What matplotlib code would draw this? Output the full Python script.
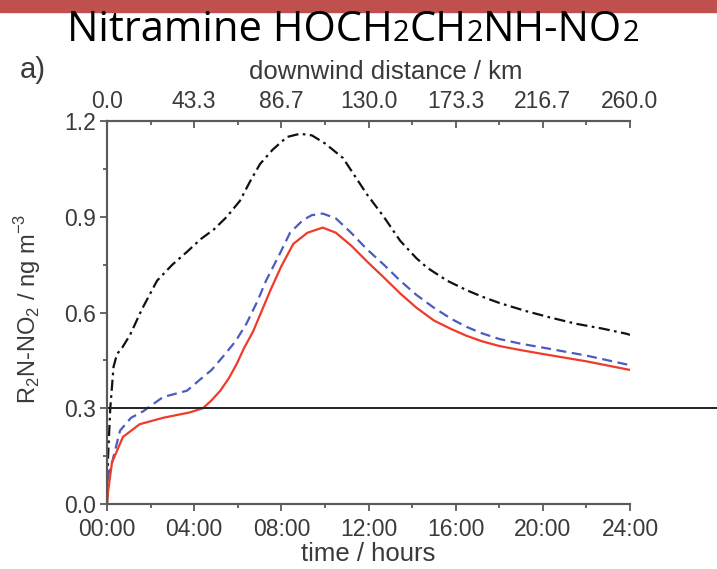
import matplotlib
matplotlib.use("Agg")
import matplotlib.pyplot as plt
from matplotlib.patches import Rectangle
from matplotlib.ticker import MultipleLocator, FixedLocator

# model run: concentration along the plume (hours after release)
t_black = [0.0, 0.05, 0.15, 0.3, 0.46, 0.7, 1.06, 1.6, 2.3, 3.0, 3.67, 4.3, 4.9, 5.5, 6.1, 6.56, 7.02, 7.6, 8.26, 8.86, 9.4, 10.0, 10.83, 11.93, 12.7, 13.45, 14.2, 14.7, 15.6, 16.5, 17.2, 18.0, 19.2, 20.3, 21.5, 22.7, 23.8, 24.0]
v_black = [0.0, 0.15, 0.30, 0.43, 0.47, 0.49, 0.53, 0.61, 0.70, 0.75, 0.79, 0.83, 0.86, 0.90, 0.95, 1.01, 1.065, 1.11, 1.15, 1.16, 1.155, 1.13, 1.084, 0.97, 0.90, 0.825, 0.77, 0.74, 0.70, 0.67, 0.65, 0.63, 0.605, 0.585, 0.565, 0.55, 0.534, 0.53]

t_blue = [0.0, 0.1, 0.23, 0.6, 1.1, 1.65, 2.57, 3.67, 4.27, 4.8, 5.3, 5.9, 6.4, 6.9, 7.3, 7.9, 8.4, 9.0, 9.4, 9.9, 10.5, 11.2, 11.9, 12.7, 13.45, 14.2, 15.0, 15.8, 16.5, 17.2, 18.0, 19.0, 20.0, 22.0, 24.0]
v_blue = [0.08, 0.10, 0.13, 0.23, 0.27, 0.29, 0.335, 0.355, 0.39, 0.42, 0.46, 0.51, 0.565, 0.635, 0.70, 0.78, 0.85, 0.89, 0.905, 0.91, 0.895, 0.85, 0.80, 0.75, 0.70, 0.655, 0.615, 0.58, 0.555, 0.535, 0.517, 0.502, 0.49, 0.465, 0.435]

t_red = [0.0, 0.05, 0.23, 0.73, 1.5, 2.57, 3.8, 4.4, 4.8, 5.2, 5.6, 5.96, 6.3, 6.7, 7.1, 7.5, 8.0, 8.55, 9.2, 9.9, 10.5, 11.2, 11.93, 12.7, 13.45, 14.2, 15.0, 15.8, 16.5, 17.2, 18.0, 19.0, 20.0, 22.0, 24.0]
v_red = [0.0, 0.04, 0.13, 0.21, 0.25, 0.27, 0.287, 0.30, 0.325, 0.355, 0.395, 0.44, 0.49, 0.54, 0.605, 0.67, 0.745, 0.815, 0.85, 0.866, 0.85, 0.81, 0.76, 0.71, 0.66, 0.615, 0.575, 0.548, 0.527, 0.51, 0.495, 0.482, 0.47, 0.447, 0.42]

threshold = 0.3

hour_ticks = [0, 4, 8, 12, 16, 20, 24]
hour_labels = ["00:00", "04:00", "08:00", "12:00", "16:00", "20:00", "24:00"]
km_ticks = [0.0, 43.3, 86.7, 130.0, 173.3, 216.7, 260.0]
y_ticks = [0.0, 0.3, 0.6, 0.9, 1.2]

grey = "#5a5a5a"
txt = "#3a3a3a"
plt.rcParams["font.family"] = ["Liberation Sans", "DejaVu Sans"]
plt.rcParams["mathtext.fontset"] = "custom"
plt.rcParams["mathtext.rm"] = "Liberation Sans"

fig = plt.figure(figsize=(7.17, 5.69), dpi=100)
fig.patches.append(Rectangle((0, 1 - 12 / 569), 1, 12 / 569, transform=fig.transFigure,
                             color="#C0504D", zorder=0))

ax = fig.add_axes([107 / 717, 1 - 504 / 569, 523 / 717, 383 / 569])
ax.plot(t_black, v_black, color="#111111", lw=1.6, dashes=(5, 2, 1.2, 2))
ax.plot(t_blue, v_blue, color="#4a5cc0", lw=1.6, dashes=(4.5, 2.5))
ax.plot(t_red, v_red, color="#f03a2a", lw=1.6)
# threshold line runs out past the frame
ax.plot([0, 28.1], [threshold, threshold], color="#222222", lw=1.4, clip_on=False)

ax.set_xlim(0, 24)
ax.set_ylim(0, 1.2)
ax.set_xticks(hour_ticks)
ax.set_xticklabels(hour_labels)
ax.xaxis.set_minor_locator(MultipleLocator(2))
ax.set_yticks(y_ticks)
ax.set_yticklabels(["%.1f" % v for v in y_ticks])
ax.yaxis.set_minor_locator(MultipleLocator(0.15))
ax.tick_params(which="both", direction="out", color=grey, width=1.3, labelsize=16.5,
               labelcolor=txt)
ax.tick_params(axis="x", pad=5)
ax.tick_params(axis="y", pad=3)
ax.tick_params(which="major", length=5)
ax.tick_params(which="minor", length=3)
ax.set_xlabel("time / hours", fontsize=18.5, color=txt, labelpad=1)
ax.set_ylabel("R$_2$N-NO$_2$ / ng m$^{-3}$", fontsize=17, color=txt)
ax.yaxis.set_label_coords(-0.122, 0.51)
ax.spines["right"].set_visible(False)
for s in ("left", "bottom", "top"):
    ax.spines[s].set_color(grey)
    ax.spines[s].set_linewidth(1.5)

top = ax.twiny()
top.set_xlim(0, 260)
top.xaxis.set_major_locator(FixedLocator(km_ticks))
top.set_xticklabels(["%.1f" % v for v in km_ticks])
top.xaxis.set_minor_locator(FixedLocator([21.67, 65.0, 108.3, 151.7, 195.0, 238.3]))
top.tick_params(which="both", direction="in", color=grey, width=1.3, labelsize=16.5,
                labelcolor=txt, pad=6)
top.tick_params(which="major", length=5)
top.tick_params(which="minor", length=3)
top.set_xlabel("downwind distance / km", fontsize=18.5, color=txt)
top.xaxis.set_label_coords(0.533, 1.11)
top.spines["right"].set_visible(False)
for s in ("left", "bottom", "top"):
    top.spines[s].set_color(grey)
    top.spines[s].set_linewidth(1.5)

fig.text(20 / 717, 1 - 70 / 569, "a)", fontsize=21, color=txt, va="center")

# title with small baseline "2"s
runs = [("Nitramine HOCH", 30), ("2", 21), ("CH", 30), ("2", 21), ("NH-NO", 30), ("2", 21)]
fig.canvas.draw()
r = fig.canvas.get_renderer()
pieces = []
for s, fs in runs:
    t = fig.text(0, 1 - 41 / 569, s, fontsize=fs, color="black", family="Open Sans",
                 va="baseline", ha="left")
    pieces.append(t)
widths = [p.get_window_extent(r).width for p in pieces]
total = sum(widths)
x = (353 - total / 2)
for p, w in zip(pieces, widths):
    p.set_x(x / 717)
    x += w

fig.savefig("out.png", dpi=100)
